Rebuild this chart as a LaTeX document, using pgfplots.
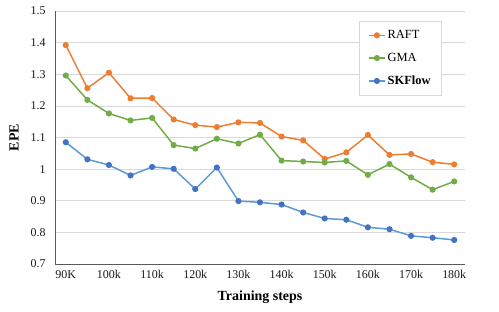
\documentclass[border=0pt]{standalone}
\usepackage{fontspec}
\setmainfont{Liberation Serif}
\usepackage{pgfplots}
\pgfplotsset{compat=1.18}
\definecolor{raft}{HTML}{ED7D31}
\definecolor{gma}{HTML}{70AD47}
\definecolor{skline}{HTML}{5B9BD5}
\definecolor{skmark}{HTML}{4472C4}
\definecolor{gridc}{HTML}{D9D9D9}
\definecolor{axc}{HTML}{595959}
\begin{document}
\begin{tikzpicture}
\useasboundingbox (-55bp,-48bp) rectangle (444bp,264bp);
\begin{axis}[
  at={(0,0)}, anchor=south west,
  scale only axis, width=410bp, height=253bp,
  xmin=87.5, xmax=182.5, ymin=0.7, ymax=1.5,
  xtick={90,100,...,180},
  xticklabels={90K,100k,110k,120k,130k,140k,150k,160k,170k,180k},
  ytick={0.7,0.8,...,1.5},
  yticklabel style={/pgf/number format/fixed,/pgf/number format/precision=1},
  /pgf/number format/assume math mode=true,
  tick label style={font=\fontsize{12}{14}\selectfont, color=black!90},
  major tick length=0pt,
  xticklabel style={yshift=-3bp},
  yticklabel style={xshift=-6bp},
  axis x line*=bottom, axis y line*=left,
  axis line style={axc, line width=0.9pt, -},
  ymajorgrids, grid style={gridc, line width=0.7pt},
  xlabel={\textbf{Training steps}},
  ylabel={\textbf{EPE}},
  label style={font=\fontsize{14}{16}\selectfont},
  xlabel style={at={(axis description cs:0.5,0)}, anchor=center, yshift=-33bp},
  ylabel style={at={(axis description cs:0,0.5)}, anchor=center, yshift=41bp},
  legend style={at={(0.741,0.960)}, anchor=north west, draw=gridc, line width=0.7pt,
    font=\fontsize{12.5}{15}\selectfont, row sep=9bp, inner xsep=9bp, inner ysep=7bp, cells={anchor=west}},
  legend image code/.code={\draw[#1, line width=1.5pt] (0bp,0bp) -- (16bp,0bp); \draw[#1, mark repeat=1, mark phase=1] plot coordinates {(8bp,0bp)};},
  every axis plot/.append style={line width=1.5pt, mark=*, mark size=2.3pt},
]
\addplot[raft, mark options={fill=raft, draw=raft}] coordinates {
(90,1.392)(95,1.256)(100,1.305)(105,1.224)(110,1.225)(115,1.157)(120,1.139)(125,1.133)(130,1.148)(135,1.146)(140,1.103)(145,1.091)(150,1.032)(155,1.053)(160,1.108)(165,1.045)(170,1.048)(175,1.022)(180,1.015)};
\addlegendentry{RAFT}
\addplot[gma, mark options={fill=gma, draw=gma}] coordinates {
(90,1.296)(95,1.219)(100,1.176)(105,1.154)(110,1.162)(115,1.076)(120,1.065)(125,1.096)(130,1.081)(135,1.109)(140,1.027)(145,1.024)(150,1.021)(155,1.026)(160,0.982)(165,1.016)(170,0.974)(175,0.935)(180,0.961)};
\addlegendentry{GMA}
\addplot[skline, mark options={fill=skmark, draw=skmark}] coordinates {
(90,1.085)(95,1.031)(100,1.013)(105,0.980)(110,1.007)(115,1.001)(120,0.937)(125,1.005)(130,0.899)(135,0.895)(140,0.888)(145,0.863)(150,0.844)(155,0.840)(160,0.816)(165,0.810)(170,0.789)(175,0.783)(180,0.776)};
\addlegendentry{\textbf{SKFlow}}
\end{axis}
\end{tikzpicture}
\end{document}
